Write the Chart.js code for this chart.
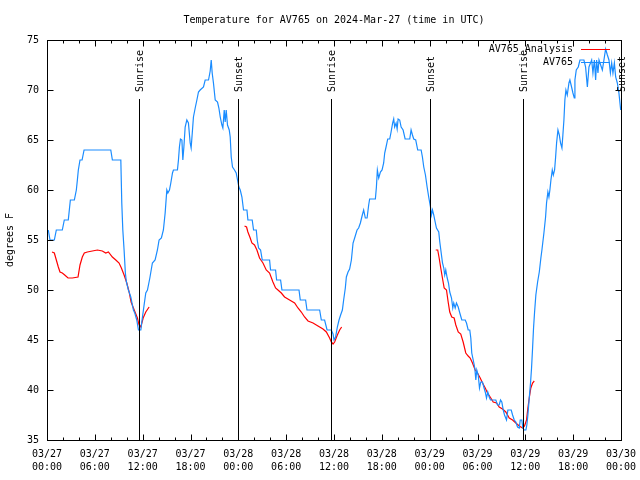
<!DOCTYPE html>
<html>
<head>
<meta charset="utf-8">
<script src="https://cdn.jsdelivr.net/npm/chart.js@4/dist/chart.umd.min.js"></script>
<style>
  body { margin: 0; background: #fff; }
  canvas { display: block; }
</style>
</head>
<body>
<canvas id="tempChart" width="640" height="480"></canvas>
<script>
// hours since 03/27 00:00 UTC
const obsHours = [0.16, 0.38, 0.92, 1.17, 1.92, 2.17, 2.67, 2.80, 2.93, 3.43, 3.68, 3.81, 3.93, 4.14, 4.40, 4.65, 8.00, 8.20, 9.26, 9.38,
  9.51, 9.67, 9.83, 9.96, 10.21, 10.51, 10.84, 11.01, 11.26, 11.47, 11.77, 11.89, 12.18, 12.39, 12.60, 12.90, 13.22, 13.56, 13.85, 14.06,
  14.35, 14.60, 14.82, 15.03, 15.16, 15.36, 15.53, 15.74, 15.86, 16.36, 16.49, 16.61, 16.74, 16.92, 17.04, 17.17, 17.33, 17.54, 17.74, 17.96,
  18.08, 18.25, 18.37, 18.59, 18.80, 19.00, 19.21, 19.63, 19.84, 20.26, 20.47, 20.60, 20.72, 20.88, 21.10, 21.39, 21.56, 21.73, 21.94, 22.06,
  22.23, 22.35, 22.48, 22.64, 22.86, 22.98, 23.11, 23.27, 23.52, 23.73, 23.90, 24.07, 24.24, 24.45, 24.65, 25.08, 25.20, 25.74, 25.91, 26.25,
  26.37, 26.54, 26.79, 27.00, 27.92, 28.04, 28.67, 28.80, 29.30, 29.47, 31.61, 31.77, 32.44, 32.61, 34.20, 34.41, 34.82, 35.13, 35.66, 35.88,
  36.00, 36.20, 36.42, 36.63, 36.83, 37.05, 37.21, 37.42, 37.55, 37.76, 37.96, 38.18, 38.39, 38.59, 38.89, 39.09, 39.31, 39.52, 39.72, 39.93,
  40.15, 40.35, 40.47, 41.19, 41.32, 41.44, 41.61, 41.82, 42.03, 42.23, 42.36, 42.53, 42.74, 42.99, 43.16, 43.36, 43.49, 43.61, 43.79, 43.92,
  44.04, 44.24, 44.42, 44.67, 44.92, 45.50, 45.67, 45.84, 46.00, 46.25, 46.50, 46.93, 47.09, 47.26, 47.47, 47.68, 47.88, 48.10, 48.22, 48.35,
  48.51, 48.69, 48.85, 49.14, 49.27, 49.48, 49.61, 49.77, 49.89, 50.02, 50.20, 50.36, 50.52, 50.74, 50.90, 51.02, 51.20, 51.36, 51.58, 51.78,
  52.03, 52.46, 52.62, 52.83, 53.03, 53.16, 53.28, 53.41, 53.54, 53.66, 53.79, 53.91, 54.09, 54.25, 54.41, 54.63, 54.79, 54.97, 55.13, 55.29,
  55.47, 55.63, 56.30, 56.51, 56.72, 56.89, 57.05, 57.23, 57.39, 57.64, 57.81, 58.23, 58.40, 58.61, 58.81, 59.02, 59.24, 59.36, 59.56, 59.69,
  59.86, 60.07, 60.19, 60.32, 60.49, 60.66, 60.78, 60.91, 61.03, 61.16, 61.32, 61.54, 61.75, 61.95, 62.08, 62.33, 62.54, 62.66, 62.83, 62.96,
  63.08, 63.21, 63.38, 63.51, 63.67, 63.80, 63.92, 64.09, 64.26, 64.42, 64.59, 64.71, 64.84, 64.96, 65.09, 65.26, 65.47, 65.59, 65.80, 65.97,
  66.14, 66.22, 66.39, 66.64, 66.85, 67.35, 67.56, 67.78, 67.98, 68.32, 68.48, 68.66, 68.82, 68.94, 69.11, 69.24, 69.45, 69.66, 69.86, 70.07,
  70.29, 70.49, 70.67, 70.83, 70.99, 71.17, 71.33, 71.54, 71.74, 71.96];
const obsTemps = [56, 55, 55, 56, 56, 57, 57, 58, 59, 59, 60, 61, 62, 63, 63, 64, 64, 63, 63, 58.7,
  56, 54, 51.7, 50.8, 50, 49.3, 48, 47.7, 47, 46, 46, 46.8, 48.5, 49.7, 50, 51.2, 52.7, 53, 54, 55,
  55.2, 56, 57.7, 60, 59.7, 60, 60.7, 61.7, 62, 62, 63, 64.3, 65.1, 65, 63, 64.3, 66.3, 67, 66.7, 64.7,
  64.2, 66, 67.3, 68.2, 69, 69.8, 70, 70.3, 71, 71, 71.9, 73, 71.7, 70.7, 69, 68.8, 68.2, 67.3, 66.5, 66.2,
  68, 66.8, 68, 66.5, 66, 65.3, 63.3, 62.3, 62, 61.7, 61, 60.3, 60, 59.3, 58, 58, 57, 57, 56, 56,
  55, 54.2, 54, 53, 53, 52, 52, 51, 51, 50, 50, 49, 49, 48, 48, 47, 47, 46, 46, 45.6,
  45, 45.3, 46.3, 47, 47.5, 48, 49, 50.2, 51.3, 51.8, 52.1, 53, 54.7, 55.2, 56, 56.2, 56.7, 57.4, 58, 57.2,
  57.2, 58.5, 59.1, 59.1, 60.3, 62, 61.2, 61.8, 62, 62.7, 63.7, 64.3, 65.1, 65.1, 65.8, 66.7, 67.1, 66.3, 66.7, 66.1,
  67.1, 67, 66.3, 66, 65.1, 65.1, 66, 65.5, 65.1, 65, 64, 64, 63.3, 62.3, 61.5, 60.3, 59.3, 58.3, 57.5, 58,
  57.5, 56.8, 56.2, 55.8, 54.8, 53.5, 52.7, 52.2, 51.5, 52, 51.2, 50.7, 49.8, 49.2, 48.2, 48.7, 48.2, 48.7, 48.3, 47.7,
  47, 47, 46.7, 46, 46, 45.2, 43.7, 43.2, 42.7, 42.2, 41, 42, 41.5, 40.2, 40.8, 40.8, 40.3, 39.8, 39.2, 39.8,
  39.3, 39, 39, 38.5, 38.5, 39, 38.8, 38, 37.5, 37, 38, 38, 37.5, 37, 36.8, 36.3, 36.2, 37, 37, 36.2,
  36, 36, 36.5, 37.5, 39.2, 40.8, 42.2, 44.2, 46.2, 47.8, 49.5, 50.8, 51.8, 53.2, 54, 55.7, 57.3, 58.7, 59.8, 59.3,
  60, 61, 62, 61.5, 62, 63.3, 64.7, 66, 65.5, 64.7, 64.2, 65.5, 67, 69, 70, 69.5, 70.7, 71, 70.3, 69.7,
  69.2, 71, 72, 72.3, 73, 73, 72.3, 70.3, 72.3, 73, 71.7, 73, 71, 73, 71.7, 73, 72.5, 72, 73, 74.1,
  73.5, 73, 71.7, 72.7, 71.7, 72.7, 71.3, 70.7, 69.7, 68];

// analysis runs, null = gap between runs
const anaHours = [0.63, 0.92, 1.17, 1.42, 1.63, 1.92, 2.22, 2.64, 3.18, 3.89, 4.14, 4.43, 4.68, 5.06, 5.69, 6.32, 6.94, 7.37, 7.70, 8.20,
  8.63, 9.04, 9.33, 9.67, 10.01, 10.30, 10.55, 10.84, 11.09, 11.34, 11.55, 11.77, 12.06, 12.39, 12.81, 18.0,
  24.78, 25.03, 25.20, 25.49, 25.70, 26.03, 26.33, 26.66, 27.09, 27.50, 27.92, 28.34, 28.67, 28.97, 29.39, 29.80, 30.43, 31.06, 31.48, 31.90,
  32.31, 32.74, 33.37, 33.99, 34.62, 35.04, 35.45, 35.66, 35.88, 36.08, 36.42, 36.71, 36.96, 42.0,
  48.76, 49.01, 49.19, 49.39, 49.60, 49.82, 50.11, 50.32, 50.52, 50.77, 51.07, 51.28, 51.58, 51.90, 52.20, 52.53, 52.83, 53.08, 53.37, 53.71,
  54.00, 54.34, 54.63, 54.97, 55.26, 55.67, 55.97, 56.39, 56.72, 57.14, 57.55, 57.98, 58.40, 58.81, 59.24, 59.65, 59.90, 60.15, 60.32, 60.49,
  60.69, 60.91, 61.12];
const anaTemps = [53.8, 53.7, 53, 52.3, 51.8, 51.7, 51.5, 51.2, 51.2, 51.3, 52.5, 53.3, 53.7, 53.8, 53.9, 54, 53.9, 53.7, 53.8, 53.3,
  53, 52.7, 52.2, 51.5, 50.7, 49.8, 48.8, 48.2, 47.7, 47.2, 46.5, 46.3, 47.2, 47.8, 48.3, null,
  56.4, 56.3, 55.8, 55.2, 54.7, 54.5, 54, 53.2, 52.7, 52, 51.7, 50.8, 50.2, 50, 49.7, 49.3, 49, 48.7, 48.2, 47.8,
  47.3, 46.9, 46.7, 46.4, 46.1, 45.8, 45.2, 44.8, 44.6, 44.8, 45.5, 46, 46.3, null,
  54, 54, 53.2, 52.2, 51.2, 50.2, 50, 48.8, 47.8, 47.3, 47.2, 46.5, 45.8, 45.6, 44.8, 43.7, 43.4, 43.2, 42.7, 42,
  41.7, 41.2, 40.7, 40.2, 39.7, 39.2, 38.8, 38.7, 38.3, 38.1, 37.8, 37.2, 37, 36.7, 36.4, 36.2, 36.4, 37, 38.2, 39.2,
  40.2, 40.7, 40.9];

const sunHours = [11.58, 23.90, 35.63, 47.98, 59.70, 72.0];
const sunLabels = ['Sunrise', 'Sunset', 'Sunrise', 'Sunset', 'Sunrise', 'Sunset'];
const sunLineTop = 69.1;

const dayLabels = ['03/27', '03/27', '03/27', '03/27', '03/28', '03/28', '03/28', '03/28', '03/29', '03/29', '03/29', '03/29', '03/30'];
const timeLabels = ['00:00', '06:00', '12:00', '18:00', '00:00', '06:00', '12:00', '18:00', '00:00', '06:00', '12:00', '18:00', '00:00'];

const seriesNames = ['AV765_Analysis', 'AV765'];
const seriesColors = ['#ff0000', '#1a8cff'];
const titleText = 'Temperature for AV765 on 2024-Mar-27 (time in UTC)';
const FONT = '10px "DejaVu Sans Mono"';

const gnuplotLook = {
    id: 'gnuplotLook',
    afterDatasetsDraw(chart) {
        const { ctx, chartArea: a, scales: { x, y } } = chart;
        const L = Math.round(a.left) + 0.5, R = Math.round(a.right) + 0.5;
        const T = Math.round(a.top) + 0.5, B = Math.round(a.bottom) + 0.5;
        ctx.save();
        ctx.strokeStyle = '#000';
        ctx.fillStyle = '#000';
        ctx.lineWidth = 1;

        // sunrise / sunset markers
        ctx.font = FONT;
        sunHours.forEach((h, i) => {
            const px = Math.round(x.getPixelForValue(h)) + 0.5;
            const top = Math.round(y.getPixelForValue(sunLineTop));
            ctx.beginPath();
            ctx.moveTo(px, top);
            ctx.lineTo(px, B);
            ctx.stroke();
            ctx.save();
            ctx.translate(px + 1, top - 7);
            ctx.rotate(-Math.PI / 2);
            ctx.textAlign = 'left';
            ctx.textBaseline = 'middle';
            ctx.fillText(sunLabels[i], 0, 0);
            ctx.restore();
        });

        // frame and inward ticks, mirrored
        ctx.strokeRect(L, T, R - L, B - T);
        ctx.beginPath();
        x.ticks.forEach(t => {
            const px = Math.round(x.getPixelForValue(t.value)) + 0.5;
            const len = t.value % 6 === 0 ? 6 : 3;
            ctx.moveTo(px, B); ctx.lineTo(px, B - len);
            ctx.moveTo(px, T); ctx.lineTo(px, T + len);
        });
        y.ticks.forEach(t => {
            const py = Math.round(y.getPixelForValue(t.value)) + 0.5;
            ctx.moveTo(L, py); ctx.lineTo(L + 6, py);
            ctx.moveTo(R, py); ctx.lineTo(R - 6, py);
        });
        ctx.stroke();

        // title and y axis name
        ctx.textAlign = 'center';
        ctx.textBaseline = 'middle';
        ctx.fillText(titleText, (a.left + a.right) / 2, 20);
        ctx.save();
        ctx.translate(10, (a.top + a.bottom) / 2);
        ctx.rotate(-Math.PI / 2);
        ctx.fillText('degrees F', 0, 0);
        ctx.restore();

        // key, top right
        ctx.textAlign = 'right';
        seriesNames.forEach((name, i) => {
            const ky = Math.round(a.top) + 9 + i * 13;
            ctx.fillStyle = '#000';
            ctx.fillText(name, a.right - 48, ky);
            ctx.strokeStyle = seriesColors[i];
            ctx.beginPath();
            ctx.moveTo(a.right - 40, ky + 0.5);
            ctx.lineTo(a.right - 11, ky + 0.5);
            ctx.stroke();
        });
        ctx.restore();
    }
};

const ctx = document.getElementById('tempChart');
new Chart(ctx, {
    type: 'line',
    data: {
        datasets: [
            {
                label: seriesNames[1],
                data: obsHours.map((h, i) => ({ x: h, y: obsTemps[i] })),
                borderColor: seriesColors[1],
                borderWidth: 1.2,
                pointRadius: 0,
                tension: 0
            },
            {
                label: seriesNames[0],
                data: anaHours.map((h, i) => ({ x: h, y: anaTemps[i] })),
                borderColor: seriesColors[0],
                borderWidth: 1.2,
                pointRadius: 0,
                tension: 0,
                spanGaps: false
            }
        ]
    },
    options: {
        responsive: false,
        animation: false,
        devicePixelRatio: 1,
        layout: { padding: { top: 40, right: 19, left: 0, bottom: 0 } },
        plugins: {
            legend: { display: false },
            title: { display: false },
            tooltip: { enabled: false }
        },
        scales: {
            x: {
                type: 'linear',
                min: 0,
                max: 72,
                grid: { display: false, drawTicks: false },
                border: { display: false },
                afterFit: s => {
                    s.height = 40;
                    s.paddingLeft = 0;
                    s.paddingRight = 0;
                },
                ticks: {
                    stepSize: 2,
                    autoSkip: false,
                    maxRotation: 0,
                    minRotation: 0,
                    padding: 8,
                    color: '#000',
                    font: { family: 'DejaVu Sans Mono', size: 10, lineHeight: 1.3 },
                    callback: v => v % 6 === 0 ? [dayLabels[v / 6], timeLabels[v / 6]] : ''
                }
            },
            y: {
                min: 35,
                max: 75,
                grid: { display: false, drawTicks: false },
                border: { display: false },
                afterFit: s => {
                    s.width = 47;
                    s.paddingTop = 0;
                    s.paddingBottom = 0;
                },
                ticks: {
                    stepSize: 5,
                    padding: 8,
                    color: '#000',
                    font: { family: 'DejaVu Sans Mono', size: 10 }
                }
            }
        }
    },
    plugins: [gnuplotLook]
});
</script>
</body>
</html>
